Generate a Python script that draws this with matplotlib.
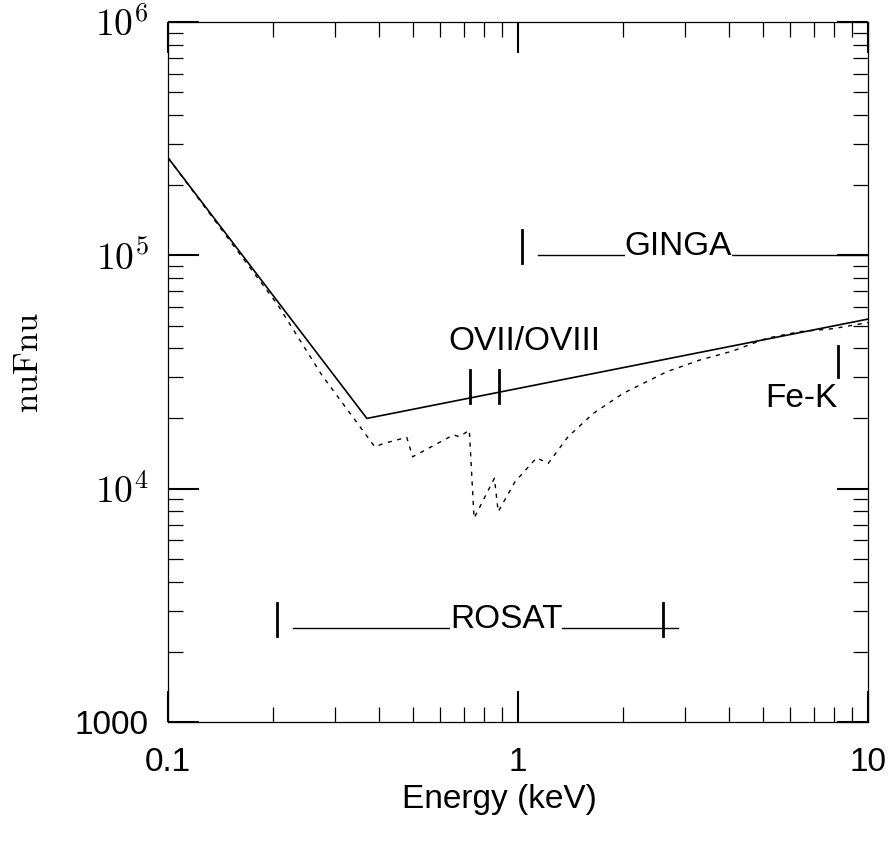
import matplotlib
matplotlib.use("Agg")
import matplotlib.pyplot as plt
from matplotlib.ticker import LogLocator, FixedLocator, FixedFormatter, NullFormatter

plt.rcParams["font.family"] = ["Liberation Sans", "DejaVu Sans"]
plt.rcParams["mathtext.fontset"] = "cm"

#1. => DATA
# continuum model (solid line)
model_energy = [0.1, 0.37, 10]
model_nufnu = [262000, 20000, 53300]

# model with absorption edges (dashed line)
absorbed_energy = [0.1, 0.206, 0.275, 0.39, 0.412, 0.481, 0.50, 0.654, 0.68, 0.726,
                   0.749, 0.856, 0.878, 0.98, 1.13, 1.22, 1.39, 1.64, 2.0, 2.66,
                   3.31, 4.11, 5.13, 6.4, 7.94, 10]
absorbed_nufnu = [262000, 61200, 30700, 15100, 15600, 16600, 13700, 17000, 16700, 17800,
                  7470, 11080, 7970, 10700, 13560, 12840, 16700, 21000, 25650, 31700,
                  35600, 38900, 44100, 47100, 48500, 51500]

# instrument bands
ginga_tick = [1.03]
ginga_tick_range = [93000, 128000]
ginga_band = [1.143, 10]
ginga_level = 1e5
ginga_text_pos = [2.02, 1e5]

rosat_ticks = [0.205, 2.59]
rosat_tick_range = [2336, 3236]
rosat_band = [0.228, 2.86]
rosat_level = 2521
rosat_text_pos = [0.639, 2521]

# line features
oxygen_ticks = [0.729, 0.884]
oxygen_tick_range = [23400, 32300]
oxygen_text_pos = [0.632, 39300]

iron_ticks = [8.19]
iron_tick_range = [30200, 40900]
iron_text_pos = [5.08, 22460]

y_tick_values = [1000, 1e4, 1e5, 1e6]
y_tick_labels = ["1000", "$10^{4}$", "$10^{5}$", "$10^{6}$"]
x_tick_values = [0.1, 1, 10]
x_tick_labels = ["0.1", "1", "10"]

#2. => PLOT
fig = plt.figure(figsize=(8.95, 8.42), dpi=100)
ax = fig.add_axes([168 / 895, 1 - 722 / 842, 700 / 895, 700 / 842])

ax.plot(model_energy, model_nufnu, color="black", linewidth=1.2)
ax.plot(absorbed_energy, absorbed_nufnu, color="black", linewidth=1.0,
        linestyle=(0, (3, 4)))

# GINGA
for e in ginga_tick:
    ax.plot([e, e], ginga_tick_range, color="black", linewidth=2)
ax.plot(ginga_band, [ginga_level, ginga_level], color="black", linewidth=1)
ax.text(ginga_text_pos[0], ginga_text_pos[1], "GINGA", fontsize=24,
        ha="left", va="baseline", zorder=5,
        bbox=dict(facecolor="white", edgecolor="none", pad=0))

# ROSAT
for e in rosat_ticks:
    ax.plot([e, e], rosat_tick_range, color="black", linewidth=2)
ax.plot(rosat_band, [rosat_level, rosat_level], color="black", linewidth=1)
ax.text(rosat_text_pos[0], rosat_text_pos[1], "ROSAT", fontsize=24,
        ha="left", va="baseline", zorder=5,
        bbox=dict(facecolor="white", edgecolor="none", pad=0))

# OVII / OVIII
for e in oxygen_ticks:
    ax.plot([e, e], oxygen_tick_range, color="black", linewidth=2)
ax.text(oxygen_text_pos[0], oxygen_text_pos[1], "OVII/OVIII", fontsize=24,
        ha="left", va="baseline")

# Fe-K
for e in iron_ticks:
    ax.plot([e, e], iron_tick_range, color="black", linewidth=2)
ax.text(iron_text_pos[0], iron_text_pos[1], "Fe-K", fontsize=24,
        ha="left", va="baseline")

#3. => AXES
ax.set_xscale("log")
ax.set_yscale("log")
ax.set_xlim(0.1, 10)
ax.set_ylim(1000, 1e6)

ax.xaxis.set_major_locator(FixedLocator(x_tick_values))
ax.xaxis.set_major_formatter(FixedFormatter(x_tick_labels))
ax.xaxis.set_minor_locator(LogLocator(base=10, subs=range(2, 10)))
ax.xaxis.set_minor_formatter(NullFormatter())
ax.yaxis.set_major_locator(FixedLocator(y_tick_values))
ax.yaxis.set_major_formatter(FixedFormatter(y_tick_labels))
ax.yaxis.set_minor_locator(LogLocator(base=10, subs=range(2, 10)))
ax.yaxis.set_minor_formatter(NullFormatter())

ax.tick_params(which="both", direction="in", top=True, right=True, labelsize=24)
ax.tick_params(which="major", length=22, width=1.5)
ax.tick_params(which="minor", length=11, width=0.9)
ax.tick_params(axis="x", which="major", pad=18)
ax.tick_params(axis="y", which="major", pad=14)
for s in ax.spines.values():
    s.set_linewidth(0.9)

# power-of-ten labels are drawn a bit larger, like the serif labels in the original
fig.canvas.draw()
for lbl in ax.get_yticklabels():
    if lbl.get_text().startswith("$"):
        lbl.set_fontsize(27)

ax.set_xlabel("Energy (keV)", fontsize=24, va="center")
ax.xaxis.set_label_coords(0.474, -0.111)
ax.set_ylabel(r"$\mathrm{nuFnu}$", fontsize=25, va="center")
ax.yaxis.set_label_coords(-0.2, 0.513)

fig.savefig("out.png", dpi=100)
